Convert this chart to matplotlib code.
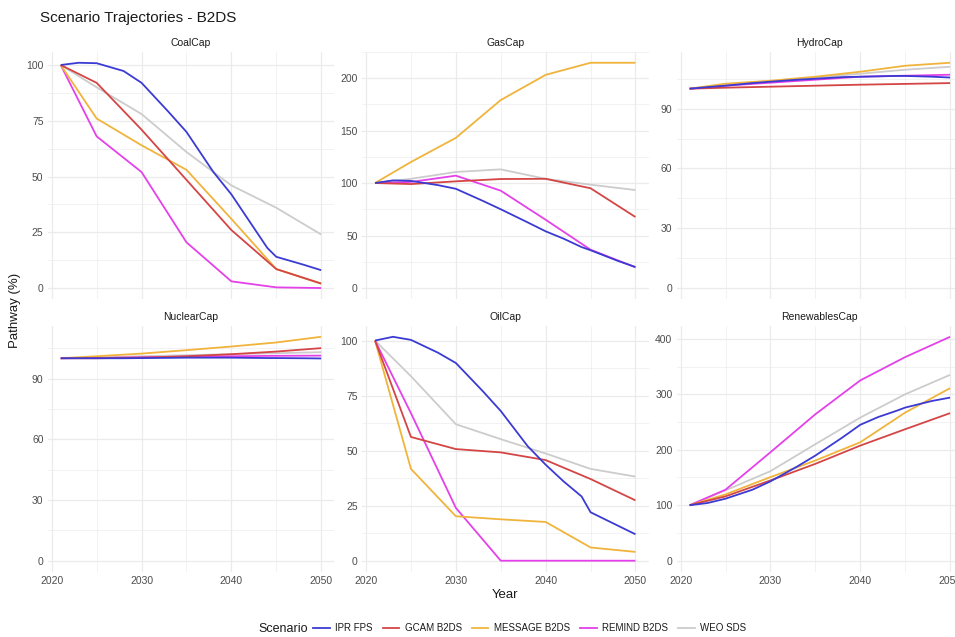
import matplotlib
matplotlib.use("Agg")
import matplotlib.pyplot as plt
from matplotlib.lines import Line2D
import numpy as np

plt.rcParams['font.family'] = ['Liberation Sans', 'DejaVu Sans']

scenarios = ["IPR FPS", "GCAM B2DS", "MESSAGE B2DS", "REMIND B2DS", "WEO SDS"]
colors = ["#3b3bd4", "#d44545", "#f0b43c", "#e441ea", "#cccccc"]
sectors = ["CoalCap", "GasCap", "HydroCap", "NuclearCap", "OilCap", "RenewablesCap"]

years = [2021, 2025, 2030, 2035, 2040, 2045, 2050]
ipr_years = [2021, 2023, 2025, 2028, 2030, 2033, 2035, 2038, 2040, 2042, 2044, 2045, 2048, 2050]

ipr_coal = [100, 101, 100.8, 97.3, 92, 79, 70, 52, 42, 30, 18, 14, 10.5, 8]
ipr_gas = [100, 102.5, 102, 98, 94.5, 83, 75, 62.5, 54, 47, 39, 36, 26, 20]
ipr_hydro = [100, 100.8, 101.5, 102.8, 103.5, 104.5, 105, 105.8, 106, 106.2, 106.4, 106.4, 106, 105.6]
ipr_nuclear = [100, 100, 100, 100, 100.1, 100.2, 100.3, 100.3, 100.3, 100.2, 100.1, 100.1, 100, 99.9]
ipr_oil = [100, 101.7, 100.3, 94.5, 89.8, 77, 68, 52, 43.6, 36, 29.2, 22, 16, 12]
ipr_renew = [100, 104, 111.8, 128, 143, 170, 189.5, 222, 245, 259, 270, 276, 288, 294]

gcam_coal = [100, 92, 71, 48.5, 26, 8.5, 2]
gcam_gas = [100, 99, 101.6, 103.8, 104, 95, 67.6]
gcam_hydro = [100, 100.5, 101, 101.5, 102, 102.4, 102.8]
gcam_nuclear = [100, 100, 100.3, 101, 102, 103.3, 105]
gcam_oil = [100, 56.2, 50.7, 49.2, 45.7, 37.1, 27.4]
gcam_renew = [100, 116, 144.7, 174.6, 207.5, 237, 266]

message_coal = [100, 76, 64, 53, 31, 8.5, 2]
message_gas = [100, 120, 143, 179, 203, 214.5, 214.5]
message_hydro = [100, 102.5, 104, 106, 108.5, 111.5, 113]
message_nuclear = [100, 101, 102.3, 104, 105.8, 107.8, 110.6]
message_oil = [100, 41.7, 20.2, 18.8, 17.6, 6, 4]
message_renew = [100, 119.6, 150.7, 180.6, 213.5, 267, 311]

remind_coal = [100, 68, 52, 20.5, 3, 0.3, 0]
remind_gas = [100, 101, 107, 92.7, 65, 36.5, 19.7]
remind_hydro = [100, 101.5, 103, 104.5, 106, 106.5, 107]
remind_nuclear = [100, 100.2, 100.5, 100.8, 101, 101.2, 101.3]
remind_oil = [100, 67, 24, 0, 0, 0, 0]
remind_renew = [100, 128, 195.5, 264, 325, 367, 403.6]

weo_coal = [100, 90, 78, 61, 46, 36, 24]
weo_gas = [100, 104, 110.5, 113, 104, 98.4, 93.3]
weo_hydro = [100, 102, 103.5, 105.5, 107.5, 109.5, 111]
weo_nuclear = [100, 100.3, 101, 101.5, 102, 102.5, 103]
weo_oil = [100, 83.8, 62, 55.2, 48.7, 41.7, 38.2]
weo_renew = [100, 126.8, 161.4, 210, 258, 300, 335]

data = {
    "CoalCap": [ipr_coal, gcam_coal, message_coal, remind_coal, weo_coal],
    "GasCap": [ipr_gas, gcam_gas, message_gas, remind_gas, weo_gas],
    "HydroCap": [ipr_hydro, gcam_hydro, message_hydro, remind_hydro, weo_hydro],
    "NuclearCap": [ipr_nuclear, gcam_nuclear, message_nuclear, remind_nuclear, weo_nuclear],
    "OilCap": [ipr_oil, gcam_oil, message_oil, remind_oil, weo_oil],
    "RenewablesCap": [ipr_renew, gcam_renew, message_renew, remind_renew, weo_renew],
}
yticks = {
    "CoalCap": [0, 25, 50, 75, 100],
    "GasCap": [0, 50, 100, 150, 200],
    "HydroCap": [0, 30, 60, 90],
    "NuclearCap": [0, 30, 60, 90],
    "OilCap": [0, 25, 50, 75, 100],
    "RenewablesCap": [0, 100, 200, 300, 400],
}
xticks = [2020, 2030, 2040, 2050]

W, H = 955, 637
fig = plt.figure(figsize=(W / 100, H / 100), dpi=100)

col_left = [47.7, 362.0, 676.6]
pw = 286.5
row_top = [51.5, 325.6]
row_bot = [299.3, 571.9]

grid_c = "#ebebeb"
text_c = "#4d4d4d"

for i, sec in enumerate(sectors):
    r, c = divmod(i, 3)
    l = col_left[c]
    t = row_top[r]
    b = row_bot[r]
    ax = fig.add_axes([l / W, 1 - b / H, pw / W, (b - t) / H])
    series = data[sec]
    for s_idx, (vals, col) in enumerate(zip(series, colors)):
        xs = ipr_years if s_idx == 0 else years
        ax.plot(xs, vals, color=col, lw=1.3, zorder=3 + (4 - s_idx) * 0.1, solid_capstyle='butt')
    allv = np.concatenate([np.asarray(v, float) for v in series])
    lo, hi = 0.0, allv.max()
    pad = (hi - lo) * 0.05
    ax.set_ylim(lo - pad, hi + pad)
    xlo, xhi = 2021, 2050
    xp = (xhi - xlo) * 0.05
    ax.set_xlim(xlo - xp, xhi + xp)
    yt = yticks[sec]
    ax.set_yticks(yt)
    step = yt[1] - yt[0]
    ax.set_yticks([v + step / 2 for v in yt[:-1]] + ([yt[-1] + step / 2] if yt[-1] + step / 2 < hi + pad else []), minor=True)
    ax.set_xticks(xticks)
    ax.set_xticks([2025, 2035, 2045], minor=True)
    ax.grid(True, which='major', color=grid_c, lw=0.9, zorder=0)
    ax.grid(True, which='minor', color=grid_c, lw=0.45, zorder=0)
    for sp in ax.spines.values():
        sp.set_visible(False)
    ax.tick_params(which='both', length=0, labelsize=7.5, colors=text_c, pad=3)
    if r == 0:
        ax.tick_params(axis='x', labelbottom=False)
    ax.set_title(sec, fontsize=7.5, color="#1a1a1a", pad=4)
    if i == 4:
        ax.set_xlabel("Year", fontsize=9.5, color="#1a1a1a", labelpad=2)

fig.text(15 / W, 1 - 310 / H, "Pathway (%)", rotation=90, fontsize=9.5, color="#1a1a1a",
         ha='center', va='center')
fig.text(40 / W, 1 - 18 / H, "Scenario Trajectories - B2DS", fontsize=11, color="#1a1a1a",
         ha='left', va='center')

handles = [Line2D([0], [0], color=c, lw=1.3) for c in colors]
fig.text(258 / W, 1 - 629 / H, "Scenario", fontsize=9, color="#1a1a1a", ha='left', va='center')
fig.legend(handles, scenarios, loc='center left', bbox_to_anchor=(313 / W, 1 - 628 / H),
           ncol=5, frameon=False, fontsize=7, handlelength=1.7, handletextpad=0.6,
           columnspacing=1.0, labelcolor="#1a1a1a", borderaxespad=0, borderpad=0)

fig.savefig("out.png", dpi=100, facecolor="white")
